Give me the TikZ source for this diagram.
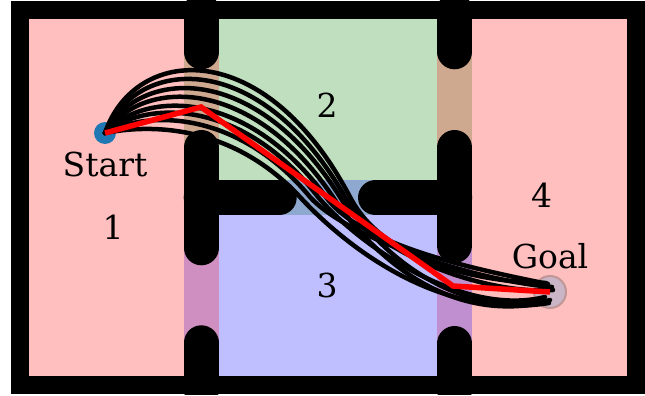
\documentclass[tikz,border=0pt]{standalone}
\usepackage{fontspec}
\setmainfont{DejaVu Serif}
\usetikzlibrary{positioning,calc}
\definecolor{roompink}{RGB}{255,191,191}
\definecolor{roomgreen}{RGB}{191,223,191}
\definecolor{roomblue}{RGB}{191,191,255}
\definecolor{doortan}{RGB}{207,168,144}
\definecolor{doormauve}{RGB}{207,143,192}
\definecolor{doorlilac}{RGB}{192,143,207}
\definecolor{doorslate}{RGB}{143,168,207}
\definecolor{startblue}{RGB}{31,119,180}
\definecolor{goalgrey}{RGB}{201,181,197}
\definecolor{goalrim}{RGB}{192,150,150}
\tikzstyle{wall}=[%
      line width=35pt, line cap=round, draw=black
]
\tikzstyle{traj}=[%
      line width=4.5pt, draw=black, line cap=round, line join=round
]
\tikzstyle{plan}=[%
      line width=5.5pt, draw=red, line join=miter
]
\tikzstyle{lbl}=[%
      font=\fontsize{33}{40}\selectfont, inner sep=0pt
]

\begin{document}
\begin{tikzpicture}[x=1pt, y=-1pt]
    \useasboundingbox (0,0) rectangle (645,396);
    % frame and rooms
    \fill[black] (11,1) rectangle (645,394);
    \fill[roompink]  (28.7,19.3) rectangle (183.7,376);
    \fill[roomgreen] (218.7,19.3) rectangle (437,180);
    \fill[roomblue]  (218.7,215.3) rectangle (437,376);
    \fill[roompink]  (472.3,19.3) rectangle (627,376);
    % doors
    \fill[doortan]   (183.7,19.3) rectangle (218.7,180);
    \fill[doormauve] (183.7,180) rectangle (218.7,376);
    \fill[doortan]   (437,19.3) rectangle (472.3,180);
    \fill[doorlilac] (437,180) rectangle (472.3,376);
    \fill[doorslate] (218.7,180) rectangle (437,215.3);
    % walls
    \begin{scope}
      \clip (11,1) rectangle (645,394);
      \draw[wall] (201.2,10) -- (201.2,51.8);
      \draw[wall] (201.2,147.5) -- (201.2,247.8);
      \draw[wall] (201.2,342.8) -- (201.2,390);
      \draw[wall] (454.7,10) -- (454.7,51.8);
      \draw[wall] (454.7,147.5) -- (454.7,245.5);
      \draw[wall] (454.7,343.5) -- (454.7,390);
      \draw[wall] (201.2,197.7) -- (279.2,197.7);
      \draw[wall] (375.5,197.7) -- (454.7,197.7);
    \end{scope}

    \node[lbl, anchor=base] (one)   at (113,239)   {1};
    \node[lbl, anchor=base] (two)   at (327,117)   {2};
    \node[lbl, anchor=base] (three) at (327,297)   {3};
    \node[lbl, anchor=base] (four)  at (541.5,207) {4};

    \node[circle, fill=startblue, minimum size=22pt, inner sep=0pt] (start) at (105,133) {};
    \node[circle, fill=goalgrey, draw=goalrim, line width=2pt, minimum size=32pt, inner sep=0pt] (goal) at (550,292) {};
    \node[lbl] (startlbl) [below = 8pt of start] {Start};
    \node[lbl] (goallbl)  [above = 6pt of goal]  {Goal};

    % sampled trajectories
    \draw[traj] (start.center) .. controls (135,45) and (265,35) .. (350,197)
                .. controls (388,270) and (500,283) .. ($(goal)+(-4,-9)$);
    \draw[traj] (start.center) .. controls (137,56) and (260,48) .. (345,197)
                .. controls (383,264) and (470,320) .. ($(goal)+(0,8)$);
    \draw[traj] (start.center) .. controls (139,68) and (255,61) .. (340,197)
                .. controls (378,258) and (490,295) .. ($(goal)+(3,-2)$);
    \draw[traj] (start.center) .. controls (141,79) and (250,74) .. (333,197)
                .. controls (370,252) and (445,325) .. ($(goal)+(-4,10)$);
    \draw[traj] (start.center) .. controls (143,91) and (245,87) .. (326,197)
                .. controls (362,247) and (480,270) .. ($(goal)+(-2,-8)$);
    \draw[traj] (start.center) .. controls (145,100) and (242,98) .. (318,197)
                .. controls (356,242) and (460,318) .. ($(goal)+(-5,5)$);
    \draw[traj] (start.center) .. controls (147,110) and (238,110) .. (310,197)
                .. controls (346,237) and (470,280) .. ($(goal)+(2,-5)$);
    \draw[traj] (start.center) .. controls (150,124) and (232,124) .. (300,197)
                .. controls (333,233) and (430,322) .. ($(goal)+(-1,11)$);

    % planned path
    \coordinate (wp1) at (201,107);
    \coordinate (wp2) at (453,286);
    \draw[plan] (start.center) -- (wp1) -- (wp2) -- (goal.center);
\end{tikzpicture}
\end{document}
